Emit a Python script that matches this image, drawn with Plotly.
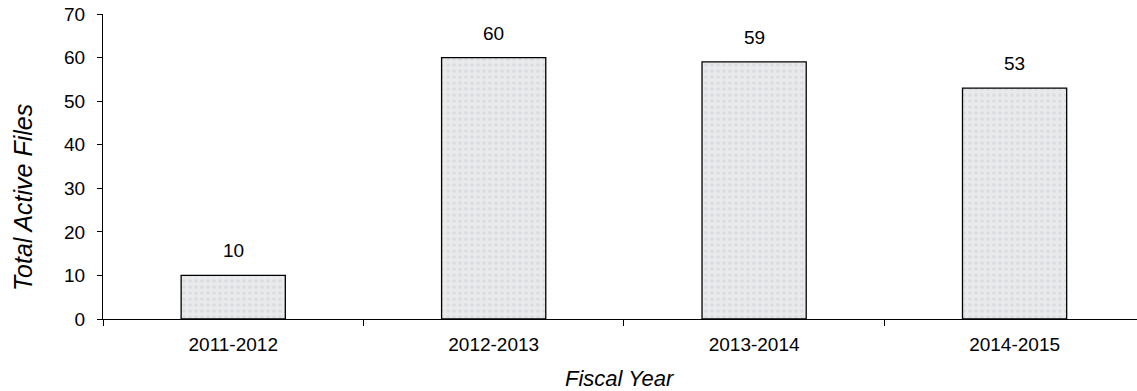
import plotly.graph_objects as go

# Total active files per fiscal year
fiscal_years = ["2011-2012", "2012-2013", "2013-2014", "2014-2015"]
active_files = [10, 60, 59, 53]

y_ticks = [0, 10, 20, 30, 40, 50, 60, 70]

FONT = "Liberation Sans, Arial, sans-serif"

fig = go.Figure()

fig.add_trace(go.Bar(
    x=fiscal_years,
    y=active_files,
    width=0.4,
    marker=dict(
        color="#e3e4e7",
        line=dict(color="#000000", width=1.3),
        pattern=dict(shape=".", fgcolor="#cdced2", bgcolor="#e9eaec", size=6, solidity=0.3),
    ),
    showlegend=False,
    hoverinfo="skip",
))

# value labels above each bar
for cat, val in zip(fiscal_years, active_files):
    fig.add_annotation(
        x=cat, y=val, text=str(val),
        showarrow=False, yanchor="bottom", yshift=12,
        font=dict(family=FONT, size=19, color="#000000"),
    )

# axis titles
fig.add_annotation(
    xref="paper", yref="paper", x=0, y=0.397,
    xanchor="center", yanchor="middle", xshift=-80,
    text="<i>Total Active Files</i>", textangle=-90, showarrow=False,
    font=dict(family=FONT, size=25, color="#000000"),
)
fig.add_annotation(
    xref="paper", yref="paper", x=0.5, y=0,
    xanchor="center", yanchor="middle", yshift=-59,
    text="<i>Fiscal Year</i>", showarrow=False,
    font=dict(family=FONT, size=22, color="#000000"),
)

fig.update_layout(
    width=1137, height=391,
    margin=dict(l=103, r=0, t=14, b=72),
    paper_bgcolor="#ffffff",
    plot_bgcolor="#ffffff",
    font=dict(family=FONT, color="#000000"),
    bargap=0.6,
)

fig.update_xaxes(
    type="category",
    range=[-0.5, 3.47],
    showline=True, linecolor="#000000", linewidth=1.3,
    ticks="outside", tickson="boundaries", ticklen=6, tickcolor="#000000", tickwidth=1.3,
    ticklabelstandoff=8,
    tickfont=dict(family=FONT, size=19, color="#000000"),
    showgrid=False, zeroline=False,
)

fig.update_yaxes(
    range=[0, 70],
    tickvals=y_ticks,
    showline=True, linecolor="#000000", linewidth=1.3,
    ticks="outside", ticklen=5, tickcolor="#000000", tickwidth=1.3,
    ticklabelstandoff=8,
    tickfont=dict(family=FONT, size=19, color="#000000"),
    showgrid=False, zeroline=False,
)

fig.write_html("out.html")
